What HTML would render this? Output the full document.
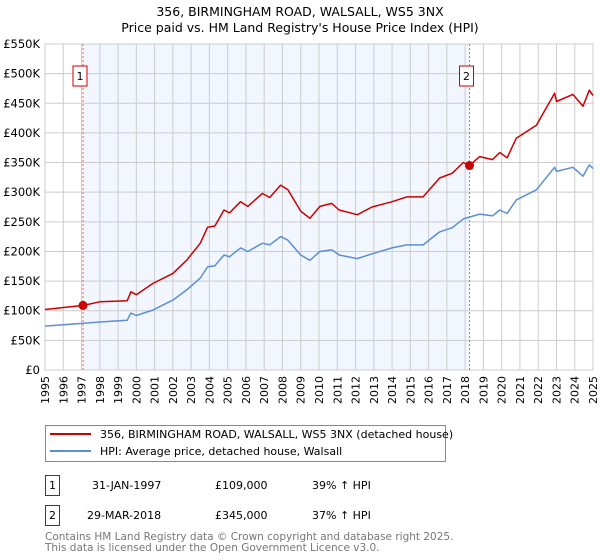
<!DOCTYPE html>
<html><head><meta charset="utf-8"><style>
body{margin:0;background:#fff;font-family:"DejaVu Sans","Liberation Sans",sans-serif;}
svg{display:block}
</style></head><body>
<svg id="chart" width="600" height="560" font-family="DejaVu Sans, Liberation Sans, sans-serif">
<text x="300" y="16" text-anchor="middle" font-size="12.5">356, BIRMINGHAM ROAD, WALSALL, WS5 3NX</text>
<text x="300" y="32" text-anchor="middle" font-size="12.5">Price paid vs. HM Land Registry's House Price Index (HPI)</text>
<g id="plot"></g>
<g>
<rect x="45.5" y="425.5" width="400" height="36" fill="#fff" stroke="#888"/>
<line x1="50" y1="434" x2="91" y2="434" stroke="#cc0000" stroke-width="2"/>
<text x="100" y="438" font-size="11">356, BIRMINGHAM ROAD, WALSALL, WS5 3NX (detached house)</text>
<line x1="50" y1="451" x2="91" y2="451" stroke="#5b8fd4" stroke-width="2"/>
<text x="100" y="455" font-size="11">HPI: Average price, detached house, Walsall</text>
</g>
<g font-size="11">
<rect x="45.5" y="475.5" width="14" height="20" fill="#fff" stroke="#cc0000"/>
<text x="52.5" y="489" text-anchor="middle">1</text>
<text x="92" y="489">31-JAN-1997</text>
<text x="215" y="489">£109,000</text>
<text x="312" y="489">39% ↑ HPI</text>
<rect x="45.5" y="505.5" width="14" height="20" fill="#fff" stroke="#cc0000"/>
<text x="52.5" y="519" text-anchor="middle">2</text>
<text x="87" y="519">29-MAR-2018</text>
<text x="215" y="519">£345,000</text>
<text x="312" y="519">37% ↑ HPI</text>
</g>
<text x="45" y="540" font-size="10.5" fill="#777">Contains HM Land Registry data © Crown copyright and database right 2025.</text>
<text x="45" y="551" font-size="10.5" fill="#777">This data is licensed under the Open Government Licence v3.0.</text>
</svg>
<script>
const yearTicks=[1995,1996,1997,1998,1999,2000,2001,2002,2003,2004,2005,2006,2007,2008,2009,2010,2011,2012,2013,2014,2015,2016,2017,2018,2019,2020,2021,2022,2023,2024,2025];
const priceTicks=[0,50000,100000,150000,200000,250000,300000,350000,400000,450000,500000,550000];
const priceLabels=["£0","£50K","£100K","£150K","£200K","£250K","£300K","£350K","£400K","£450K","£500K","£550K"];
const hpiYears=[1995,1997.1,1998,1999.5,1999.7,2000,2000.9,2002,2002.75,2003.5,2003.9,2004.3,2004.8,2005.1,2005.7,2006.1,2006.9,2007.3,2007.9,2008.3,2009,2009.5,2010.05,2010.7,2011.1,2012.1,2012.9,2014,2014.8,2015.7,2016.6,2017.3,2017.9,2018.8,2019.5,2019.9,2020.3,2020.8,2021.9,2022.9,2023,2023.9,2024.45,2024.8,2025];
const hpiValues=[74000,79000,81000,84000,96000,92000,101000,118000,135000,155000,174000,176000,194000,191000,206000,200000,214000,211000,225000,219000,194000,185000,200000,203000,194000,188000,196000,206000,211000,211000,233000,240000,255000,263000,260000,270000,264000,287000,304000,342000,335000,342000,327000,346000,340000];
const propYears=[1995,1997.1,1998,1999.5,1999.7,2000,2000.9,2002,2002.75,2003.5,2003.9,2004.3,2004.8,2005.1,2005.7,2006.1,2006.9,2007.3,2007.9,2008.3,2009,2009.5,2010.05,2010.7,2011.1,2012.1,2012.9,2014,2014.8,2015.7,2016.6,2017.3,2017.9,2018.24,2018.8,2019.5,2019.9,2020.3,2020.8,2021.9,2022.9,2023,2023.9,2024.45,2024.8,2025];
const propValues=[102000,109000,115000,117000,132000,127000,146000,163000,185000,214000,241000,243000,270000,265000,284000,276000,298000,291000,312000,304000,268000,256000,276000,281000,270000,262000,275000,284000,292000,292000,324000,332000,350000,345000,360000,355000,367000,358000,391000,413000,467000,453000,465000,445000,472000,463000];
const saleYears=[1997.08,2018.24];
const saleValues=[109000,345000];
const saleLabels=["1","2"];

const X0=45,X1=593,Y0=370,Y1=44;
const xs=y=>X0+(y-1995)/30*(X1-X0);
const ys=v=>Y0-v/550000*(Y0-Y1);
const NS="http://www.w3.org/2000/svg";
const g=document.getElementById('plot');
function mk(t,a,parent){const e=document.createElementNS(NS,t);for(const k in a)e.setAttribute(k,a[k]);(parent||g).appendChild(e);return e;}
let e=mk('rect',{x:X0,y:Y1,width:X1-X0,height:Y0-Y1,fill:'#fff'});


e=mk('rect',{x:xs(saleYears[0]),y:Y1,width:xs(saleYears[1])-xs(saleYears[0]),height:Y0-Y1,fill:'#f2f6fe'});


yearTicks.forEach(y=>{
 const l=mk('line',{x1:xs(y),x2:xs(y),y1:Y1,y2:Y0,stroke:'#ccc','stroke-width':1});
 
 
 const wrap=mk('g',{transform:'translate('+(xs(y)+4)+','+(Y0+6)+') rotate(-90)'});
 const t=mk('text',{x:0,y:0,'font-size':11,'text-anchor':'end'},wrap);
 t.textContent=y;
 
 
});
priceTicks.forEach((v,i)=>{
 const l=mk('line',{x1:X0,x2:X1,y1:ys(v),y2:ys(v),stroke:'#ccc','stroke-width':1});
 
 
 const t=mk('text',{x:X0-5,y:ys(v)+4,'font-size':11.5,'text-anchor':'end'});
 t.textContent=priceLabels[i];
 
 
});
e=mk('rect',{x:X0,y:Y1,width:X1-X0,height:Y0-Y1,fill:'none',stroke:'#ccc'});


saleYears.forEach((y,i)=>{
 const l=mk('line',{x1:xs(y),x2:xs(y),y1:Y1,y2:Y0,stroke:'#e06060','stroke-width':1,'stroke-dasharray':'2,2'});
 
 
});
function path(xa,va,col,name){
 const d=xa.map((x,i)=>(i?'L':'M')+xs(x).toFixed(1)+','+ys(va[i]).toFixed(1)).join('');
 const p=mk('path',{d:d,fill:'none',stroke:col,'stroke-width':1.5,'stroke-linejoin':'round'});
 
 
}
path(hpiYears,hpiValues,'#5b8fd4','hpi-line');
path(propYears,propValues,'#cc0000','property-line');
saleYears.forEach((y,i)=>{
 const c=mk('circle',{cx:xs(y),cy:ys(saleValues[i]),r:4.5,fill:'#cc0000'});
 
 
 const bx=xs(y)-10;
 const r=mk('rect',{x:bx,y:66,width:14,height:20,fill:'#fff',stroke:'#cc0000'});
 
 
 const t=mk('text',{x:bx+7,y:80,'font-size':11,'text-anchor':'middle'});
 t.textContent=saleLabels[i];
 
 
});
</script>
</body></html>
